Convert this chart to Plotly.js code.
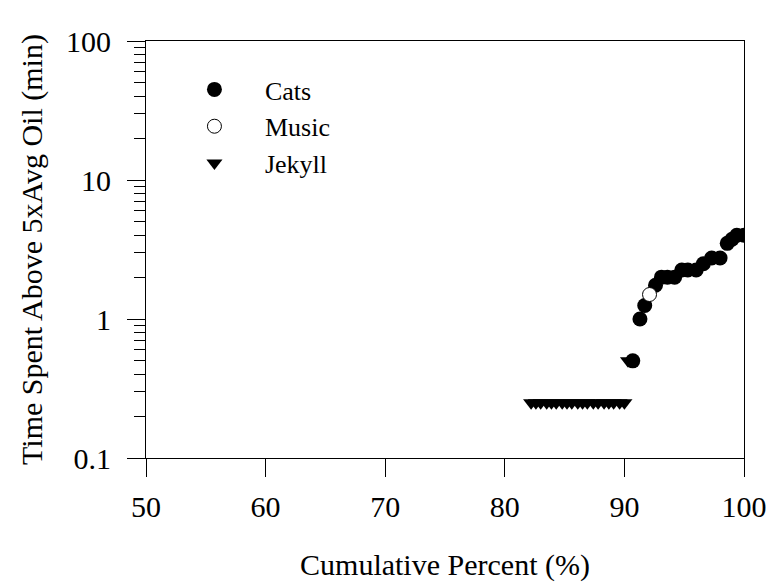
<!DOCTYPE html>
<html>
<head>
<meta charset="utf-8">
<script src="https://cdn.plot.ly/plotly-3.0.1.min.js"></script>
<style>html,body{margin:0;padding:0;background:#fff;}</style>
</head>
<body>
<div id="chart" style="width:772px;height:582px;"></div>
<script>
// Cumulative percent (x) and time above 5xAvg oil in minutes (y)
const catsX = [90.7, 91.3, 91.7, 92.6, 93.1, 93.6, 94.2, 94.8, 95.3, 96.0, 96.6, 97.3, 98.0, 98.6, 99.0, 99.4, 100.0];
const catsY = [0.5, 1.0, 1.25, 1.75, 2.0, 2.0, 2.0, 2.25, 2.25, 2.25, 2.5, 2.75, 2.75, 3.5, 3.75, 4.0, 4.0];
const musicX = [92.1];
const musicY = [1.5];
const jekyllX = [82.2, 82.6, 83.0, 83.5, 83.9, 84.3, 84.8, 85.2, 85.6, 86.1, 86.5, 86.9, 87.4, 87.8, 88.3, 88.7, 89.1, 89.6, 90.0, 90.3];
const jekyllY = [0.25, 0.25, 0.25, 0.25, 0.25, 0.25, 0.25, 0.25, 0.25, 0.25, 0.25, 0.25, 0.25, 0.25, 0.25, 0.25, 0.25, 0.25, 0.25, 0.5];
const xTicks = [50, 60, 70, 80, 90, 100];
const yTicks = [0.1, 1, 10, 100];
const yTickText = ['0.1', '1', '10', '100'];
const yMinorTicks = [0.2, 0.3, 0.4, 0.5, 0.6, 0.7, 0.8, 0.9, 2, 3, 4, 5, 6, 7, 8, 9, 20, 30, 40, 50, 60, 70, 80, 90];

const FONT = 'Times New Roman, Liberation Serif, serif';

const traces = [
  {x: catsX, y: catsY, name: 'Cats', type: 'scatter', mode: 'markers',
   marker: {symbol: 'circle', size: 15, color: '#000'}},
  {x: musicX, y: musicY, name: 'Music', type: 'scatter', mode: 'markers',
   marker: {symbol: 'circle', size: 14, color: '#fff', line: {color: '#000', width: 1}}},
  {x: jekyllX, y: jekyllY, name: 'Jekyll', type: 'scatter', mode: 'markers',
   marker: {symbol: 'triangle-down', size: 14, color: '#000'}}
];

const layout = {
  width: 772, height: 582,
  margin: {l: 146, r: 28, t: 41, b: 124},
  paper_bgcolor: '#fff', plot_bgcolor: '#fff',
  font: {family: FONT, size: 30, color: '#000'},
  showlegend: true,
  legend: {x: 0.03, y: 0.94, xanchor: 'left', yanchor: 'top', bgcolor: 'rgba(0,0,0,0)',
           font: {family: FONT, size: 26, color: '#000'}, traceorder: 'normal', itemwidth: 91},
  xaxis: {
    range: [50, 100], tickvals: xTicks, ticks: 'outside', ticklen: 18, tickwidth: 1, tickcolor: '#000',
    showline: true, linecolor: '#000', linewidth: 1, mirror: true, showgrid: false, zeroline: false,
    tickfont: {family: FONT, size: 30, color: '#000'}, ticklabelstandoff: 4,
    title: {text: 'Cumulative Percent (%)', font: {family: FONT, size: 30, color: '#000'}, standoff: 31}
  },
  yaxis: {
    type: 'log', range: [-1, 2], tickvals: yTicks, ticktext: yTickText,
    ticks: 'outside', ticklen: 18, tickwidth: 1, tickcolor: '#000',
    minor: {ticks: 'outside', ticklen: 11, tickwidth: 1, tickcolor: '#000', showgrid: false, tickvals: yMinorTicks},
    showline: true, linecolor: '#000', linewidth: 1, mirror: true, showgrid: false, zeroline: false,
    tickfont: {family: FONT, size: 30, color: '#000'}, ticklabelstandoff: 10,
    title: {text: 'Time Spent Above 5xAvg Oil (min)', font: {family: FONT, size: 30, color: '#000'}, standoff: 14}
  }
};

Plotly.newPlot('chart', traces, layout, {displayModeBar: false, staticPlot: true});
</script>
</body>
</html>
